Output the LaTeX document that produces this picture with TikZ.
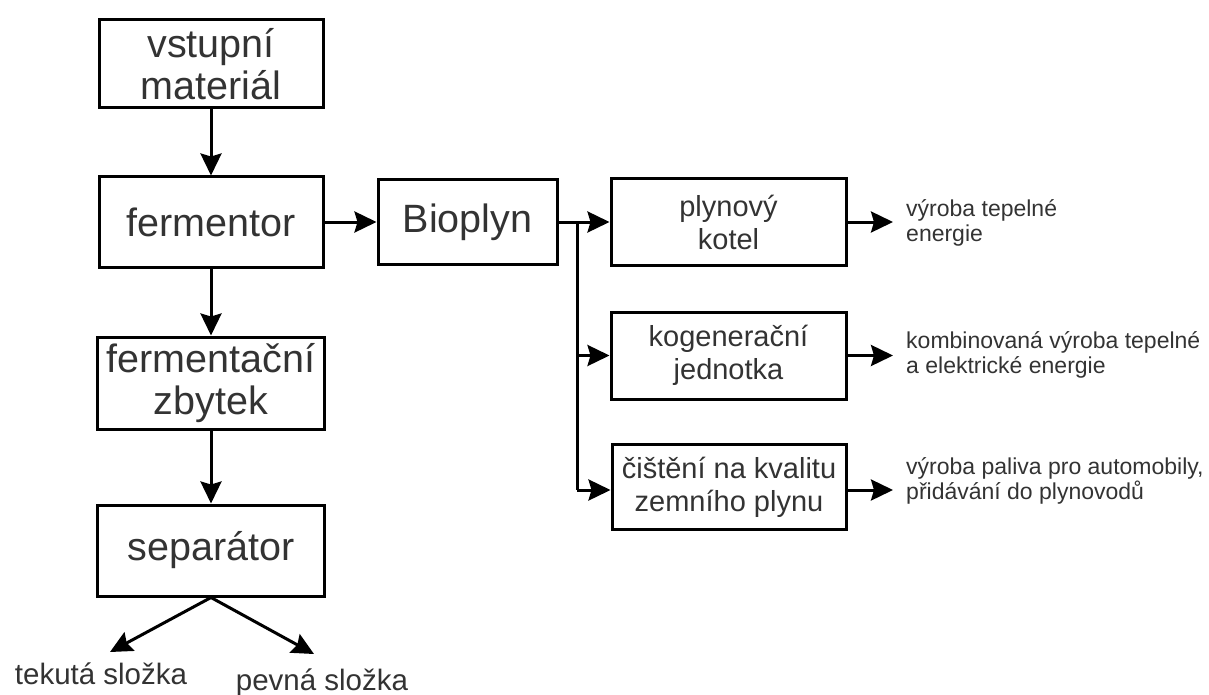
\documentclass[tikz,border=0pt]{standalone}
\usepackage{fontspec}
\setmainfont{Liberation Sans}
\usetikzlibrary{arrows.meta}
\definecolor{txt}{gray}{0.2}
\begin{document}
\begin{tikzpicture}[x=1pt,y=-1pt,
  box/.style={draw=black,line width=3pt,rectangle,inner sep=0pt,text=txt,align=center},
  bigtxt/.style={font=\fontsize{39.5}{42}\selectfont},
  midtxt/.style={font=\fontsize{29}{33}\selectfont},
  smalltxt/.style={font=\fontsize{23}{25}\selectfont,text=txt,align=left,inner sep=0pt,anchor=west},
  bottxt/.style={font=\fontsize{29.5}{33}\selectfont,text=txt,inner sep=0pt,anchor=base},
  conn/.style={line width=3pt,-{Stealth[length=22pt,width=21pt,inset=3pt]}},
  plain/.style={line width=3pt}]
\useasboundingbox (0,0) rectangle (1209,695);
% left column
\node[box,bigtxt,minimum width=224pt,minimum height=88pt] (vst) at (211,64) {vstupní\\materiál};
\node[box,bigtxt,minimum width=224pt,minimum height=90pt] (fer) at (211,222) {fermentor};
\node[box,bigtxt,minimum width=227pt,minimum height=92pt] (fz) at (211,383) {fermentační\\zbytek};
\node[box,bigtxt,minimum width=227pt,minimum height=91pt] (sep) at (211,550.5) {separátor};
% bioplyn
\node[box,bigtxt,minimum width=179pt,minimum height=85pt] (bio) at (467.5,222) {Bioplyn};
% right boxes
\node[box,midtxt,minimum width=235pt,minimum height=87pt] (kot) at (728.5,222) {plynový\\kotel};
\node[box,midtxt,minimum width=235pt,minimum height=87pt] (kog) at (728.5,355.5) {kogenerační\\jednotka};
\node[box,midtxt,minimum width=234pt,minimum height=85pt] (cis) at (729,487) {čištění na kvalitu\\zemního plynu};
% outputs
\node[smalltxt] (o1) at (906,223) {výroba tepelné\\energie};
\node[smalltxt] (o2) at (906,355) {kombinovaná výroba tepelné\\a elektrické energie};
\node[smalltxt] (o3) at (906,481) {výroba paliva pro automobily,\\přidávání do plynovodů};
\node[bottxt] (tek) at (101,684) {tekutá složka};
\node[bottxt] (pev) at (322,690) {pevná složka};
\coordinate (tekA) at (110,652);
\coordinate (pevA) at (314,654);
\coordinate (split) at (577,222);
\coordinate (e1) at (893,222);
\coordinate (e2) at (893,355.5);
\coordinate (e3) at (893,490);
% connectors
\draw[conn] (vst) -- (fer);
\draw[conn] (fer) -- (fz);
\draw[conn] (fz) -- (sep);
\draw[conn] (fer) -- (bio);
\draw[conn] (bio.east) -- (kot.west);
\draw[plain] (split) -- (split |- 0,490);
\draw[conn] (split |- kog.west) -- (kog.west);
\draw[conn] (split |- 0,490) -- (cis.west |- 0,490);
\draw[conn] (kot.east) -- (e1);
\draw[conn] (kog.east) -- (e2);
\draw[conn] (cis.east |- 0,490) -- (e3);
\draw[conn] (sep.south) -- (tekA);
\draw[conn] (sep.south) -- (pevA);
\end{tikzpicture}
\end{document}
